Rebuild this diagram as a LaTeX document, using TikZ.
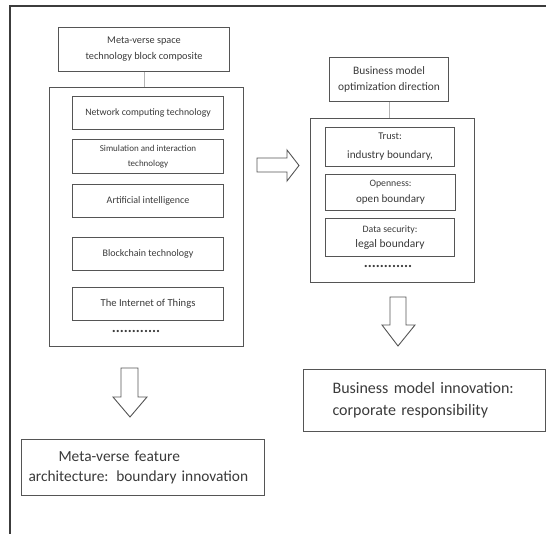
\documentclass[tikz,border=0pt]{standalone}
\usepackage{fontspec}
\setmainfont{Carlito}
\definecolor{framegray}{HTML}{3C3C3C}
\definecolor{boxgray}{HTML}{555555}
\definecolor{txtgray}{HTML}{3A3A3A}
\definecolor{linkgray}{HTML}{B4B4B4}
\newcommand{\fs}[2]{\fontsize{#1}{#2}\selectfont}
\begin{document}
\begin{tikzpicture}[x=1pt,y=-1pt,
  box/.style={draw=boxgray, line width=1.1pt, anchor=north west, inner sep=0pt,
              text=txtgray, align=center},
  link/.style={draw=linkgray, line width=1.1pt},
  blockarrow/.style={draw=boxgray, line width=0.9pt, fill=white, line join=miter},
  dots/.style={text=txtgray, inner sep=0pt, font=\bfseries\fs{15}{15}}]
\useasboundingbox (0,0) rectangle (546,534);

% outer frame (top and left edges)
\draw[framegray, line width=1.5pt] (546,6) -- (10,6) -- (10,534);

% ---- left column: technology blocks ----
\node[box, minimum width=171, minimum height=44, font=\fs{10.3}{16}] (tech) at (58,27)
  {Meta-verse space\\technology block composite};
\node[box, minimum width=194, minimum height=259] (techset) at (49,87) {};
\draw[link] (tech.south) -- (tech.south |- techset.north);

\node[box, minimum width=151, minimum height=33, font=\fs{9.8}{15}] (net) at (72,96)
  {Network computing technology};
\node[box, minimum width=151, minimum height=34, font=\fs{9}{15}] (sim) at (72,139)
  {Simulation and interaction\\technology};
\node[box, minimum width=151, minimum height=33, font=\fs{10}{15}] (ai) at (72,184)
  {Artificial intelligence};
\node[box, minimum width=151, minimum height=33, font=\fs{10}{15}] (chain) at (72,237)
  {Blockchain technology};
\node[box, minimum width=151, minimum height=33, font=\fs{10.6}{15}] (iot) at (72,287)
  {The Internet of Things};
\node[dots] (moreL) at (136,331) {............};

% ---- right column: business model ----
\node[box, minimum width=119, minimum height=44, font=\fs{11.4}{16}] (biz) at (329,57)
  {Business model\\optimization direction};
\node[box, minimum width=164, minimum height=164] (bizset) at (310,118) {};
\draw[link] (biz.south) -- (biz.south |- bizset.north);

\node[box, minimum width=129, minimum height=39, font=\fs{11.2}{19}] (trust) at (325,127)
  {{\fs{10.3}{19}Trust:}\\industry boundary,};
\node[box, minimum width=130, minimum height=36, font=\fs{11.1}{16}] (open) at (325,174)
  {{\fs{9.8}{16}Openness:}\\open boundary};
\node[box, minimum width=129, minimum height=38, font=\fs{11.5}{15.5}] (legal) at (325,218)
  {{\fs{9.8}{15.5}Data security:}\\legal boundary};
\node[dots] (moreR) at (388,266) {............};

% ---- outcomes ----
\node[box, minimum width=243, minimum height=56, text width=229, inner xsep=7pt,
      align=left, font=\fs{15.4}{20}] (feature) at (21,439)
  {\hspace*{30pt}\mbox{Meta-verse feature}\\\mbox{architecture: boundary innovation}};
\node[box, minimum width=242, minimum height=62, text width=184, inner xsep=29pt,
      align=left, font=\fs{16}{22}] (innov) at (303,369)
  {\mbox{Business model innovation:}\\\mbox{corporate responsibility}};

% ---- block arrows ----
\draw[blockarrow] (257,158) -- (287,158) -- (287,150) -- (299,165.5) -- (287,181)
  -- (287,172) -- (257,172) -- cycle;
\draw[blockarrow] (121,368) -- (138,368) -- (138,397) -- (147,397) -- (130,417)
  -- (113,397) -- (121,397) -- cycle;
\draw[blockarrow] (390,297) -- (406,297) -- (406,325) -- (415,325) -- (398,346)
  -- (382,325) -- (390,325) -- cycle;
\end{tikzpicture}
\end{document}
